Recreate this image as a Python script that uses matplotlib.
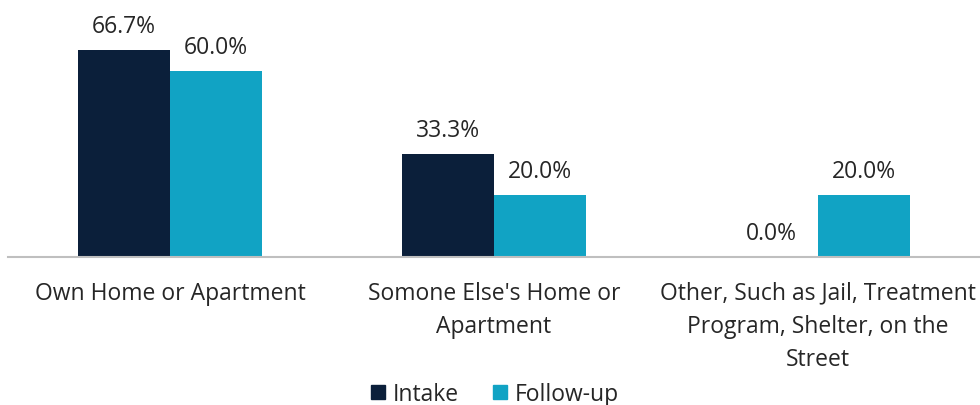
import numpy as np
import matplotlib.pyplot as plt
from matplotlib.patches import Patch

categories = ["Own Home or Apartment",
              "Somone Else's Home or\nApartment",
              "Other, Such as Jail, Treatment\nProgram, Shelter, on the\nStreet"]
intake = [66.7, 33.3, 0.0]
follow_up = [60.0, 20.0, 20.0]

navy = "#0B1F3A"
teal = "#11A3C4"
fs = 16.5

plt.rcParams['font.family'] = ['Open Sans', 'DejaVu Sans']

fig = plt.figure(figsize=(9.8, 4.06), dpi=100)
ax = fig.add_axes([8 / 980, 1 - 258 / 406, 972 / 980, 258 / 406])

x = np.arange(len(categories))
w = 0.285
b1 = ax.bar(x - w / 2, intake, w, color=navy)
b2 = ax.bar(x + w / 2, follow_up, w, color=teal)

# value labels above each bar
for bars in (b1, b2):
    for r in bars:
        ax.text(r.get_x() + r.get_width() / 2, r.get_height() + 3.8,
                f"{r.get_height():.1f}%", ha="center", va="bottom",
                fontsize=fs, color="#262626")

ax.set_xlim(-0.5, 2.5)
ax.set_ylim(0, 83.2)
ax.set_yticks([])
ax.set_xticks(x)
ax.set_xticklabels(categories, fontsize=fs, color="#262626", linespacing=1.5)
ax.tick_params(axis="x", length=0, pad=17)
for s in ("top", "right", "left"):
    ax.spines[s].set_visible(False)
ax.spines["bottom"].set_color("#BFBFBF")
ax.spines["bottom"].set_linewidth(1.5)

handles = [Patch(color=navy, label="Intake"), Patch(color=teal, label="Follow-up")]
fig.legend(handles=handles, loc="center", bbox_to_anchor=(495 / 980, 1 - 395 / 406),
           ncol=2, frameon=False, fontsize=fs, handlelength=0.6, handleheight=0.6,
           handletextpad=0.35, columnspacing=1.5, labelcolor="#262626")

fig.savefig("out.png", dpi=100)
